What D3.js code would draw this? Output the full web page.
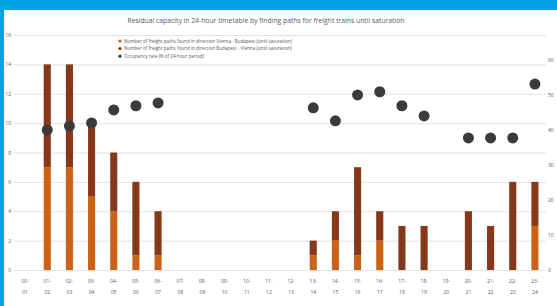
<!DOCTYPE html>
<html>
<head>
<meta charset="utf-8">
<script src="https://cdn.jsdelivr.net/npm/d3@7/dist/d3.min.js"></script>
<style>
  body { margin: 0; background: #00a3e3; }
  svg { display: block; }
  text { font-family: 'Open Sans', 'Liberation Sans', sans-serif; fill: #595959; }
</style>
</head>
<body>
<div id="chart"></div>
<script>
'use strict';
// hours of the day, two-line labels
var hoursFrom = ['00','01','02','03','04','05','06','07','08','09','10','11','12','13','14','15','16','17','18','19','20','21','22','23'];
var hoursTo   = ['01','02','03','04','05','06','07','08','09','10','11','12','13','14','15','16','17','18','19','20','21','22','23','24'];

// freight paths found, first direction (orange) and second direction (brown)
var pathsDirA = [0,7,7,5,4,1,1,0,0,0,0,0,0,1,2,1,2,0,0,0,0,0,0,3];
var pathsDirB = [0,7,7,5,4,5,3,0,0,0,0,0,0,1,2,6,2,3,3,0,4,3,6,3];

// occupancy rate in % (null = no value)
var occupancy = [null,40.0,41.1,42.0,45.7,46.9,47.7,null,null,null,null,null,null,46.3,42.6,50.0,50.9,46.9,44.0,null,37.7,37.7,37.7,53.1];

var leftTicks  = [0,2,4,6,8,10,12,14,16];
var rightTicks = [0,10,20,30,40,50,60];

var seriesNames = [
  'Number of freight paths found in direction Vienna - Budapest (until saturation)',
  'Number of freight paths found in direction Budapest - Vienna (until saturation)',
  'Occupancy rate (% of 24-hour period)'
];

var W = 557, H = 306;
var margin = {top: 35, right: 11, bottom: 36, left: 14};

var svg = d3.select('#chart').append('svg')
  .attr('width', W)
  .attr('height', H);

// white panel inside the blue frame
svg.append('rect')
  .attr('x', 4).attr('y', 10)
  .attr('width', W - 4).attr('height', H - 10)
  .attr('fill', '#fff');

var x = d3.scaleBand()
  .domain(d3.range(hoursFrom.length))
  .range([margin.left, W - margin.right])
  .paddingInner(0.68)
  .paddingOuter(0.34);

var y = d3.scaleLinear().domain([0, 16]).range([H - margin.bottom, margin.top]);
var y2 = d3.scaleLinear().domain([0, 67.1]).range([H - margin.bottom, margin.top]);

// gridlines + left axis
var yAxis = d3.axisLeft(y).tickValues(leftTicks).tickSize(-(W - margin.left - margin.right)).tickPadding(3);
var gy = svg.append('g')
  .attr('transform', 'translate(' + margin.left + ',0)')
  .call(yAxis);
gy.select('.domain').remove();
gy.selectAll('line').attr('stroke', '#e3e3e3').attr('stroke-width', 1);
gy.selectAll('text').attr('font-size', 5).attr('fill', '#777');

// right axis
var y2Axis = d3.axisRight(y2).tickValues(rightTicks).tickSize(0).tickPadding(2);
var gy2 = svg.append('g')
  .attr('transform', 'translate(' + (W - margin.right) + ',0)')
  .call(y2Axis);
gy2.select('.domain').remove();
gy2.selectAll('text').attr('font-size', 5).attr('fill', '#777');

// stacked bars
var stackData = hoursFrom.map(function(h, i) { return {i: i, a: pathsDirA[i], b: pathsDirB[i]}; });
var stack = d3.stack().keys(['a', 'b'])(stackData);
var colors = {a: '#cc6218', b: '#86381a'};

svg.append('g').selectAll('g')
  .data(stack).enter()
  .append('g')
    .attr('fill', function(s) { return colors[s.key]; })
  .selectAll('rect')
  .data(function(s) { return s; }).enter()
  .append('rect')
    .attr('x', function(d) { return x(d.data.i); })
    .attr('width', x.bandwidth())
    .attr('y', function(d) { return y(d[1]); })
    .attr('height', function(d) { return y(d[0]) - y(d[1]); });

// occupancy dots
svg.append('g').selectAll('circle')
  .data(occupancy.map(function(v, i) { return {i: i, v: v}; }).filter(function(d) { return d.v !== null; }))
  .enter().append('circle')
    .attr('cx', function(d) { return x(d.i) + x.bandwidth() / 2; })
    .attr('cy', function(d) { return y2(d.v); })
    .attr('r', 5.5)
    .attr('fill', '#3b3b3b');

// x labels, two lines
var xl = svg.append('g').selectAll('text')
  .data(hoursFrom).enter()
  .append('text')
    .attr('text-anchor', 'middle')
    .attr('font-size', 5)
    .attr('fill', '#777')
    .attr('transform', function(d, i) { return 'translate(' + (x(i) + x.bandwidth() / 2) + ',' + (H - 23) + ')'; });
xl.append('tspan').attr('x', 0).attr('dy', 0).text(function(d) { return d + '-'; });
xl.append('tspan').attr('x', 0).attr('dy', 11).text(function(d, i) { return hoursTo[i]; });

// title
svg.append('text')
  .attr('x', 266).attr('y', 23)
  .attr('text-anchor', 'middle')
  .attr('font-size', 6.8)
  .attr('fill', '#404040')
  .text('Residual capacity in 24-hour timetable by finding paths for freight trains until saturation');

// legend
var legendColors = [colors.a, colors.b, '#3b3b3b'];
var lg = svg.append('g').selectAll('g')
  .data(seriesNames).enter()
  .append('g')
    .attr('transform', function(d, i) { return 'translate(120,' + (41 + i * 7.6) + ')'; });
lg.append('circle')
  .attr('r', 1.6)
  .attr('fill', function(d, i) { return legendColors[i]; });
lg.append('text')
  .attr('x', 4).attr('dy', '0.35em')
  .attr('font-size', 4.6)
  .attr('fill', '#666')
  .text(function(d) { return d; });
</script>
</body>
</html>
